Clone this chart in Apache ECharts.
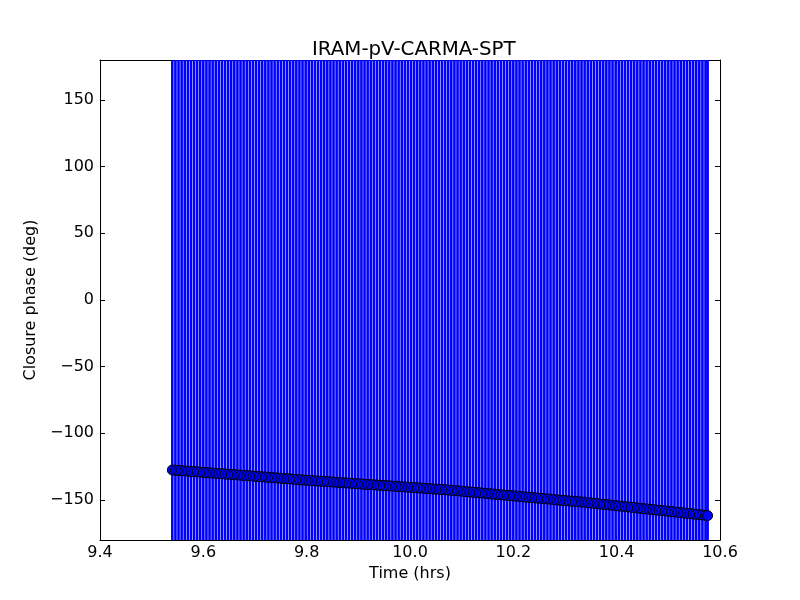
<!DOCTYPE html>
<html>
<head>
<meta charset="utf-8">
<script src="https://cdn.jsdelivr.net/npm/echarts@6/dist/echarts.min.js"></script>
<style>html,body{margin:0;padding:0;background:#fff}#c{width:800px;height:600px}</style>
</head>
<body>
<div id="c"></div>
<script>
var times = [
9.540,9.546,9.552,9.558,9.564,9.570,9.576,9.582,9.588,9.594,
9.600,9.606,9.612,9.618,9.624,9.630,9.636,9.642,9.648,9.654,
9.660,9.666,9.672,9.678,9.684,9.690,9.696,9.702,9.708,9.714,
9.720,9.726,9.732,9.738,9.744,9.750,9.756,9.762,9.768,9.774,
9.780,9.786,9.792,9.798,9.804,9.810,9.816,9.822,9.828,9.834,
9.840,9.846,9.852,9.858,9.864,9.870,9.876,9.882,9.888,9.894,
9.900,9.906,9.912,9.918,9.924,9.930,9.936,9.942,9.948,9.954,
9.960,9.966,9.972,9.978,9.984,9.990,9.996,10.002,10.008,10.014,
10.020,10.026,10.032,10.038,10.044,10.050,10.056,10.062,10.068,10.074,
10.080,10.086,10.092,10.098,10.104,10.110,10.116,10.122,10.128,10.134,
10.140,10.146,10.152,10.158,10.164,10.170,10.176,10.182,10.188,10.194,
10.200,10.206,10.212,10.218,10.224,10.230,10.236,10.242,10.248,10.254,
10.260,10.266,10.272,10.278,10.284,10.290,10.296,10.302,10.308,10.314,
10.320,10.326,10.332,10.338,10.344,10.350,10.356,10.362,10.368,10.374,
10.380,10.386,10.392,10.398,10.404,10.410,10.416,10.422,10.428,10.434,
10.440,10.446,10.452,10.458,10.464,10.470,10.476,10.482,10.488,10.494,
10.500,10.506,10.512,10.518,10.524,10.530,10.536,10.542,10.548,10.554,
10.560,10.566,10.572,10.576
];
var phases = [
-127.5,-127.7,-127.9,-128.0,-128.2,-128.4,-128.6,-128.7,-128.9,-129.1,
-129.3,-129.4,-129.6,-129.8,-130.0,-130.2,-130.3,-130.5,-130.7,-130.9,
-131.0,-131.2,-131.4,-131.6,-131.7,-131.9,-132.1,-132.3,-132.5,-132.6,
-132.8,-133.0,-133.2,-133.3,-133.5,-133.7,-133.9,-134.0,-134.2,-134.4,
-134.6,-134.8,-135.0,-135.1,-135.3,-135.4,-135.6,-135.8,-135.9,-136.1,
-136.2,-136.4,-136.6,-136.7,-136.9,-137.0,-137.2,-137.4,-137.5,-137.7,
-137.8,-138.0,-138.2,-138.3,-138.5,-138.6,-138.8,-139.0,-139.1,-139.3,
-139.4,-139.6,-139.8,-139.9,-140.1,-140.2,-140.4,-140.6,-140.7,-140.9,
-141.0,-141.2,-141.4,-141.5,-141.7,-141.8,-142.0,-142.2,-142.3,-142.5,
-142.7,-142.9,-143.1,-143.3,-143.6,-143.8,-144.0,-144.2,-144.4,-144.6,
-144.8,-145.0,-145.2,-145.4,-145.7,-145.9,-146.1,-146.3,-146.5,-146.7,
-146.9,-147.1,-147.3,-147.5,-147.8,-148.0,-148.2,-148.4,-148.6,-148.8,
-149.0,-149.2,-149.4,-149.6,-149.9,-150.1,-150.3,-150.5,-150.7,-150.9,
-151.1,-151.3,-151.5,-151.7,-152.0,-152.2,-152.5,-152.7,-153.0,-153.2,
-153.5,-153.7,-154.0,-154.2,-154.5,-154.7,-155.0,-155.2,-155.5,-155.7,
-156.0,-156.2,-156.5,-156.7,-157.0,-157.2,-157.5,-157.7,-158.0,-158.2,
-158.5,-158.7,-159.0,-159.2,-159.5,-159.7,-160.0,-160.2,-160.5,-160.7,
-161.0,-161.2,-161.5,-161.7
];
// error half-width in degrees (bars extend beyond the whole axis range)
var phaseError = 400;
var xTicks = [9.4, 9.6, 9.8, 10.0, 10.2, 10.4, 10.6];
var yTicks = [-150, -100, -50, 0, 50, 100, 150];

var pts = times.map(function (t, i) { return [t, phases[i]]; });
var errData = times.map(function (t, i) { return [t, phases[i], phaseError]; });

var FONT = 'DejaVu Sans';
var FS = 16;
function fmtY(v) { return (v < 0 ? '\u2212' + Math.abs(v) : String(v)); }

var chart = echarts.init(document.getElementById('c'), null, {renderer: 'canvas'});
var axisLine = {show: true, onZero: false, lineStyle: {color: '#000', width: 1}};
var tick = {show: true, inside: true, length: 5, lineStyle: {color: '#000', width: 1}};
chart.setOption({
  animation: false,
  backgroundColor: '#fff',
  title: {
    text: 'IRAM-pV-CARMA-SPT', left: 307, top: 35,
    textStyle: {fontFamily: FONT, fontSize: 19.8, fontWeight: 'normal', color: '#000'}
  },
  grid: {left: 100, right: 80, top: 60, bottom: 60, show: false},
  xAxis: [{
    type: 'value', min: 9.4, max: 10.6, position: 'bottom',
    name: 'Time (hrs)', nameLocation: 'middle', nameGap: 26,
    nameTextStyle: {fontFamily: FONT, fontSize: FS, color: '#000'},
    axisLine: axisLine,
    axisTick: Object.assign({customValues: xTicks}, tick),
    axisLabel: {customValues: xTicks, fontFamily: FONT, fontSize: FS, color: '#000', margin: 5,
      formatter: function (v) { return v.toFixed(1); }},
    splitLine: {show: false}
  }, {
    type: 'value', min: 9.4, max: 10.6, position: 'top',
    axisLine: axisLine,
    axisTick: Object.assign({customValues: xTicks}, tick),
    axisLabel: {show: false}, splitLine: {show: false}
  }],
  yAxis: [{
    type: 'value', min: -180, max: 180, position: 'left',
    name: 'Closure phase (deg)', nameLocation: 'middle', nameGap: 51,
    nameTextStyle: {fontFamily: FONT, fontSize: FS, color: '#000'},
    axisLine: axisLine,
    axisTick: Object.assign({customValues: yTicks}, tick),
    axisLabel: {customValues: yTicks, fontFamily: FONT, fontSize: FS, color: '#000', margin: 6,
      formatter: fmtY},
    splitLine: {show: false}
  }, {
    type: 'value', min: -180, max: 180, position: 'right',
    axisLine: axisLine,
    axisTick: Object.assign({customValues: yTicks}, tick),
    axisLabel: {show: false}, splitLine: {show: false}
  }],
  series: [{
    type: 'custom',
    xAxisIndex: 0, yAxisIndex: 0,
    data: errData,
    renderItem: function (params, api) {
      var t = api.value(0), v = api.value(1), e = api.value(2);
      var cs = params.coordSys;
      var p1 = api.coord([t, v - e]);
      var p2 = api.coord([t, v + e]);
      var top = Math.max(Math.min(p1[1], p2[1]), cs.y);
      var bot = Math.min(Math.max(p1[1], p2[1]), cs.y + cs.height);
      return {
        type: 'line',
        shape: {x1: p1[0], y1: top, x2: p1[0], y2: bot},
        style: {stroke: '#0000ff', lineWidth: 2.6}
      };
    },
    z: 1
  }, {
    type: 'scatter',
    xAxisIndex: 0, yAxisIndex: 0,
    data: pts,
    symbol: 'circle', symbolSize: 10,
    itemStyle: {color: '#0000ff', borderColor: '#000', borderWidth: 1, opacity: 1},
    z: 2
  }]
});
</script>
</body>
</html>
